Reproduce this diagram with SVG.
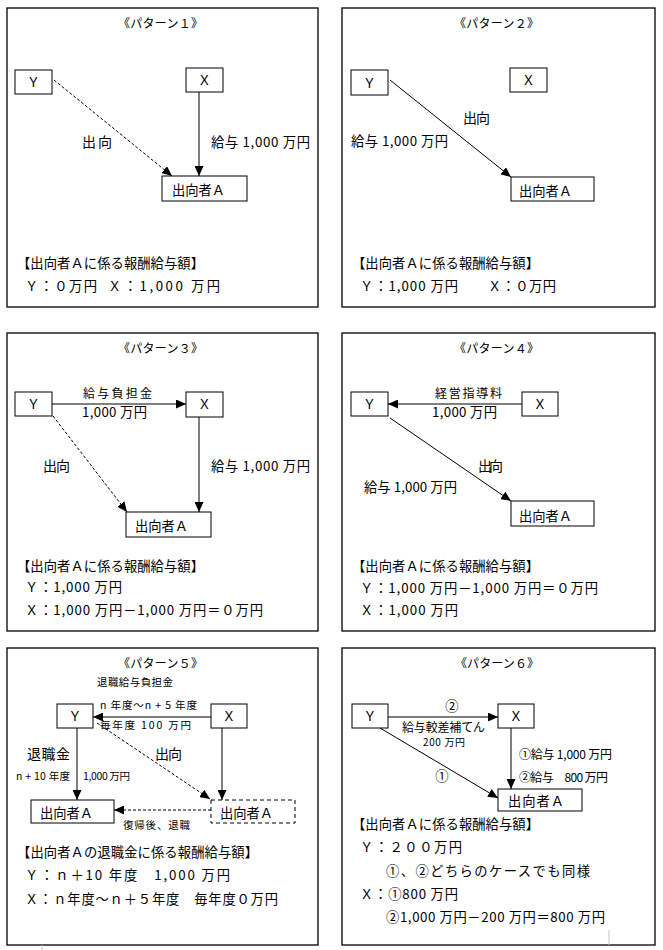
<svg xmlns="http://www.w3.org/2000/svg" width="663" height="950" viewBox="0 0 663 950">
<style>
.frame{fill:none;stroke:#000;stroke-width:1.3}
.box{fill:#fff;stroke:#000;stroke-width:1}
.dbox{fill:#fff;stroke:#000;stroke-width:1;stroke-dasharray:4,3}
.ln{stroke:#000;stroke-width:1;fill:none}
.dash{stroke-dasharray:3,2}
text{font-family:"Noto Sans CJK JP","Noto Sans",sans-serif;fill:#000}
.ti{font-size:12px}
.t{font-size:13.3px}
.m{font-size:14px}
.s{font-size:12px}
.xs{font-size:10.5px}
.xxs{font-size:10px}
.c{text-anchor:middle}
.art{stroke:#c8c8c8;stroke-width:1}
</style>
<defs>
<marker id="ah" viewBox="0 0 10 9" refX="10" refY="4.5" markerWidth="10" markerHeight="9" markerUnits="userSpaceOnUse" orient="auto" preserveAspectRatio="none"><path d="M0,0 L10,4.5 L0,9 z" fill="#000"/></marker>
</defs>
<rect width="663" height="950" fill="#fff"/>

<!-- Panel 1 -->
<g id="panel1">
<rect class="frame" x="7" y="8" width="311" height="299"/>
<text class="ti" x="118" y="28" textLength="85" lengthAdjust="spacing">《パターン１》</text>
<g id="p1-Y"><rect class="box" x="15" y="70" width="37" height="24"/><text class="t c" x="33.5" y="87">Ｙ</text></g>
<g id="p1-X"><rect class="box" x="186" y="68" width="37" height="24"/><text class="t c" x="204.5" y="85">Ｘ</text></g>
<g id="p1-A"><rect class="box" x="162" y="176" width="85" height="25"/><text class="t" x="172" y="195" textLength="53" lengthAdjust="spacing">出向者Ａ</text></g>
<g id="p1-connectors">
<line class="ln dash" x1="54" y1="80" x2="172" y2="176" marker-end="url(#ah)"/>
<line class="ln" x1="199" y1="92" x2="199" y2="176" marker-end="url(#ah)"/>
</g>
<text class="m" x="82" y="147" textLength="30" lengthAdjust="spacing">出向</text>
<text class="t" x="211" y="147" textLength="99" lengthAdjust="spacing">給与 1,000 万円</text>
<text class="t" x="17" y="268" textLength="187" lengthAdjust="spacing">【出向者Ａに係る報酬給与額】</text>
<text class="t" x="25" y="291" textLength="72" lengthAdjust="spacing">Ｙ：０万円</text>
<text class="t" x="108" y="291" textLength="112" lengthAdjust="spacing">Ｘ：1,000 万円</text>
</g>

<!-- Panel 2 -->
<g id="panel2">
<rect class="frame" x="342" y="8" width="313" height="299"/>
<text class="ti" x="454" y="28" textLength="85" lengthAdjust="spacing">《パターン２》</text>
<g id="p2-Y"><rect class="box" x="351" y="70" width="37" height="25"/><text class="t c" x="369.5" y="88">Ｙ</text></g>
<g id="p2-X"><rect class="box" x="510" y="68" width="37" height="24"/><text class="t c" x="528.5" y="85">Ｘ</text></g>
<g id="p2-A"><rect class="box" x="511" y="177" width="83" height="24"/><text class="t" x="519" y="196" textLength="53" lengthAdjust="spacing">出向者Ａ</text></g>
<g id="p2-connectors">
<line class="ln" x1="390" y1="80" x2="511" y2="177" marker-end="url(#ah)"/>
</g>
<text class="m" x="463" y="123" textLength="27" lengthAdjust="spacing">出向</text>
<text class="t" x="351" y="146" textLength="97" lengthAdjust="spacing">給与 1,000 万円</text>
<text class="t" x="352" y="268" textLength="187" lengthAdjust="spacing">【出向者Ａに係る報酬給与額】</text>
<text class="t" x="360" y="291" textLength="98" lengthAdjust="spacing">Ｙ：1,000 万円</text>
<text class="t" x="488" y="291" textLength="68" lengthAdjust="spacing">Ｘ：０万円</text>
</g>

<!-- Panel 3 -->
<g id="panel3">
<rect class="frame" x="7" y="333" width="311" height="298"/>
<text class="ti" x="118" y="353" textLength="85" lengthAdjust="spacing">《パターン３》</text>
<g id="p3-Y"><rect class="box" x="15" y="392" width="37" height="24"/><text class="t c" x="33.5" y="409">Ｙ</text></g>
<g id="p3-X"><rect class="box" x="186" y="392" width="37" height="25"/><text class="t c" x="204.5" y="409">Ｘ</text></g>
<g id="p3-A"><rect class="box" x="126" y="512" width="85" height="25"/><text class="t" x="135" y="531" textLength="53" lengthAdjust="spacing">出向者Ａ</text></g>
<g id="p3-connectors">
<line class="ln" x1="52" y1="404" x2="186" y2="404" marker-end="url(#ah)"/>
<line class="ln dash" x1="53" y1="416" x2="127" y2="512" marker-end="url(#ah)"/>
<line class="ln" x1="199" y1="417" x2="199" y2="512" marker-end="url(#ah)"/>
</g>
<text class="s" x="83" y="398" textLength="69" lengthAdjust="spacing">給与負担金</text>
<text class="t" x="82" y="417" textLength="65" lengthAdjust="spacing">1,000 万円</text>
<text class="m" x="43" y="471" textLength="27" lengthAdjust="spacing">出向</text>
<text class="t" x="211" y="471" textLength="99" lengthAdjust="spacing">給与 1,000 万円</text>
<text class="t" x="17" y="571" textLength="187" lengthAdjust="spacing">【出向者Ａに係る報酬給与額】</text>
<text class="t" x="25" y="592" textLength="97" lengthAdjust="spacing">Ｙ：1,000 万円</text>
<text class="t" x="25" y="615" textLength="238" lengthAdjust="spacing">Ｘ：1,000 万円－1,000 万円＝０万円</text>
</g>

<!-- Panel 4 -->
<g id="panel4">
<rect class="frame" x="342" y="333" width="313" height="298"/>
<text class="ti" x="454" y="353" textLength="85" lengthAdjust="spacing">《パターン４》</text>
<g id="p4-Y"><rect class="box" x="351" y="392" width="37" height="24"/><text class="t c" x="369.5" y="409">Ｙ</text></g>
<g id="p4-X"><rect class="box" x="522" y="392" width="36" height="24"/><text class="t c" x="540" y="409">Ｘ</text></g>
<g id="p4-A"><rect class="box" x="511" y="501" width="83" height="25"/><text class="t" x="519" y="521" textLength="53" lengthAdjust="spacing">出向者Ａ</text></g>
<g id="p4-connectors">
<line class="ln" x1="522" y1="404" x2="388" y2="404" marker-end="url(#ah)"/>
<line class="ln" x1="390" y1="418" x2="511" y2="501" marker-end="url(#ah)"/>
</g>
<text class="s" x="435" y="398" textLength="67" lengthAdjust="spacing">経営指導料</text>
<text class="t" x="432" y="417" textLength="65" lengthAdjust="spacing">1,000 万円</text>
<text class="m" x="478" y="471" textLength="25" lengthAdjust="spacing">出向</text>
<text class="t" x="364" y="492" textLength="93" lengthAdjust="spacing">給与 1,000 万円</text>
<text class="t" x="352" y="571" textLength="187" lengthAdjust="spacing">【出向者Ａに係る報酬給与額】</text>
<text class="t" x="360" y="593" textLength="238" lengthAdjust="spacing">Ｙ：1,000 万円－1,000 万円＝０万円</text>
<text class="t" x="360" y="615" textLength="98" lengthAdjust="spacing">Ｘ：1,000 万円</text>
</g>

<!-- Panel 5 -->
<g id="panel5">
<rect class="frame" x="7" y="648" width="311" height="297"/>
<text class="ti" x="118" y="668" textLength="85" lengthAdjust="spacing">《パターン５》</text>
<g id="p5-Y"><rect class="box" x="57" y="704" width="36" height="24"/><text class="t c" x="75" y="721">Ｙ</text></g>
<g id="p5-X"><rect class="box" x="211" y="704" width="36" height="24"/><text class="t c" x="229" y="721">Ｘ</text></g>
<g id="p5-A"><rect class="box" x="31" y="800" width="83" height="23"/><text class="t" x="40" y="818" textLength="53" lengthAdjust="spacing">出向者Ａ</text></g>
<g id="p5-A2"><rect class="dbox" x="211" y="800" width="84" height="23"/><text class="t" x="220" y="818" textLength="53" lengthAdjust="spacing">出向者Ａ</text></g>
<g id="p5-connectors">
<line class="ln" x1="211" y1="717" x2="93" y2="717" marker-end="url(#ah)"/>
<line class="ln dash" x1="97" y1="723" x2="210" y2="799" marker-end="url(#ah)"/>
<line class="ln" x1="77" y1="728" x2="77" y2="800" marker-end="url(#ah)"/>
<line class="ln" x1="222" y1="728" x2="222" y2="800" marker-end="url(#ah)"/>
<line class="ln dash" x1="211" y1="810" x2="114" y2="810" marker-end="url(#ah)"/>
</g>
<text class="xs" x="97" y="686" textLength="76" lengthAdjust="spacing">退職給与負担金</text>
<text class="xs" x="100" y="709" textLength="97" lengthAdjust="spacing">n 年度～n + 5 年度</text>
<text class="xs" x="100" y="729" textLength="91" lengthAdjust="spacing">毎年度 100 万円</text>
<text class="m" x="27" y="759" textLength="43" lengthAdjust="spacing">退職金</text>
<text class="m" x="155" y="759" textLength="27" lengthAdjust="spacing">出向</text>
<text class="xs" x="16" y="780" textLength="54" lengthAdjust="spacing">n + 10 年度</text>
<text class="xs" x="83" y="780" textLength="47" lengthAdjust="spacing">1,000 万円</text>
<text class="xs" x="123" y="829" textLength="67" lengthAdjust="spacing">復帰後、退職</text>
<text class="t" x="17" y="857" textLength="241" lengthAdjust="spacing">【出向者Ａの退職金に係る報酬給与額】</text>
<text class="t" x="25" y="880" textLength="205" lengthAdjust="spacing">Ｙ：ｎ＋10 年度　1,000 万円</text>
<text class="t" x="25" y="904" textLength="253" lengthAdjust="spacing">Ｘ：ｎ年度～ｎ＋５年度　毎年度０万円</text>
</g>

<!-- Panel 6 -->
<g id="panel6">
<rect class="frame" x="342" y="648" width="313" height="297"/>
<text class="ti" x="455" y="668" textLength="84" lengthAdjust="spacing">《パターン６》</text>
<g id="p6-Y"><rect class="box" x="352" y="704" width="36" height="24"/><text class="t c" x="370" y="721">Ｙ</text></g>
<g id="p6-X"><rect class="box" x="498" y="704" width="36" height="24"/><text class="t c" x="516" y="721">Ｘ</text></g>
<g id="p6-A"><rect class="box" x="498" y="789" width="84" height="22"/><text class="t" x="508" y="806" textLength="56" lengthAdjust="spacing">出向者Ａ</text></g>
<g id="p6-connectors">
<line class="ln" x1="388" y1="717" x2="498" y2="717" marker-end="url(#ah)"/>
<line class="ln" x1="380" y1="728" x2="498" y2="798" marker-end="url(#ah)"/>
<line class="ln" x1="511" y1="728" x2="511" y2="789" marker-end="url(#ah)"/>
</g>
<text class="t c" x="452" y="711">②</text>
<text class="s" x="402" y="732" textLength="83" lengthAdjust="spacing">給与較差補てん</text>
<text class="xxs" x="423" y="746" textLength="42" lengthAdjust="spacing">200 万円</text>
<text class="t c" x="442" y="781">①</text>
<text class="s" x="519" y="759" textLength="93" lengthAdjust="spacing">①給与 1,000 万円</text>
<text class="s" x="519" y="782" textLength="89" lengthAdjust="spacing">②給与　800 万円</text>
<text class="t" x="352" y="829" textLength="187" lengthAdjust="spacing">【出向者Ａに係る報酬給与額】</text>
<text class="t" x="360" y="852" textLength="102" lengthAdjust="spacing">Ｙ：２００万円</text>
<text class="t" x="386" y="876" textLength="204" lengthAdjust="spacing">①、②どちらのケースでも同様</text>
<text class="t" x="360" y="899" textLength="98" lengthAdjust="spacing">Ｘ：①800 万円</text>
<text class="t" x="386" y="922" textLength="219" lengthAdjust="spacing">②1,000 万円－200 万円＝800 万円</text>
</g>

<g id="artifacts">
<line class="art" x1="42" y1="945" x2="42" y2="950"/>
<line class="art" x1="609" y1="930" x2="609" y2="945"/>
</g>
</svg>
